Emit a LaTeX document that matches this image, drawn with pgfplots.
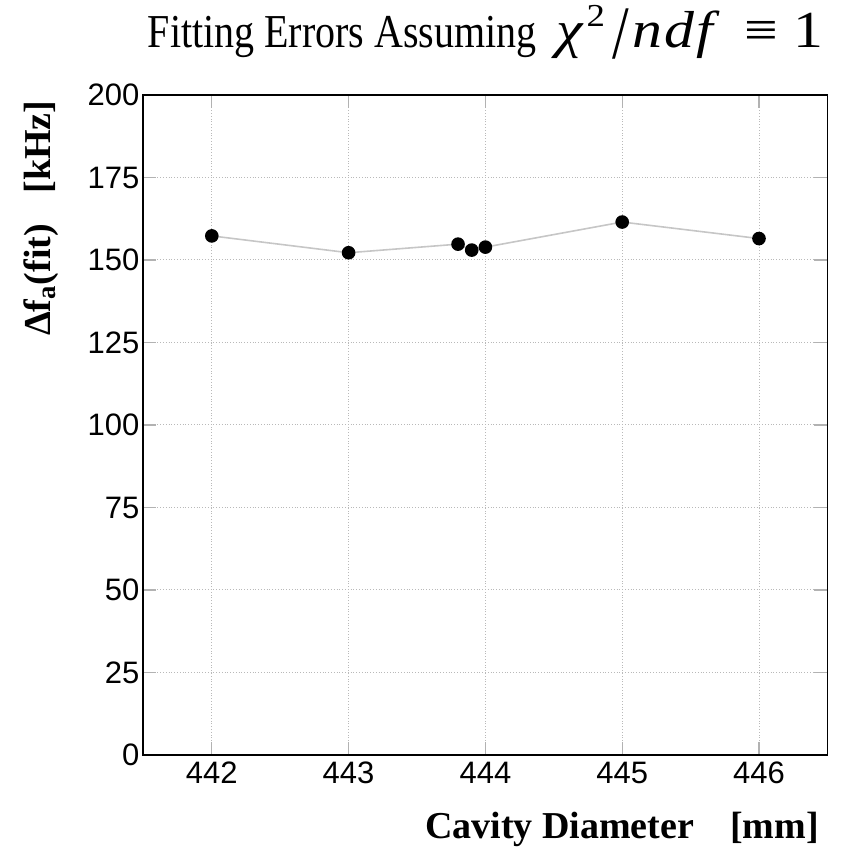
\documentclass[border=0pt]{standalone}
\usepackage{pgfplots}
\pgfplotsset{compat=1.18}
\usepackage{graphicx}
\usepackage{fontspec}
\setmainfont{Liberation Serif}
\newfontfamily\ticksans{Liberation Sans}

\begin{document}
\begin{tikzpicture}
\begin{axis}[
  scale only axis, width=342pt, height=330pt,
  xmin=441.5, xmax=446.5, ymin=0, ymax=200,
  xtick={442,443,444,445,446}, ytick={0,25,...,200},
  /pgf/number format/assume math mode=true,
  xticklabel style={/pgf/number format/1000 sep={}},
  tick label style={font=\ticksans\fontsize{15.5}{18}\selectfont},
  yticklabel style={xshift=1.5pt},
  grid=major, grid style={gray!55, densely dotted, line width=0.5pt},
  tick align=inside, major tick length=6.5pt,
  tick style={gray!60, line width=0.6pt, solid},
  axis line style={black, line width=0.9pt},
  title={\scalebox{1}[1.18]{Fitting Errors Assuming}\hspace{0.5em}\scalebox{1.15}[1]{\fontsize{26}{28}\selectfont\textit{χ}\hspace{0.04em}\raisebox{0.42em}{\fontsize{16}{17}\selectfont 2}\hspace{0.12em}\raisebox{-0.2em}{\scalebox{1}[1.45]{/}}\hspace{0.06em}\textit{n\hspace{0.04em}d\hspace{0.04em}f}\hspace{0.4em}≡\hspace{0.25em}1}},
  title style={font=\fontsize{20}{24}\selectfont, anchor=base, at={(0.5,1)}, yshift=17.5pt, inner sep=0pt},
  xlabel={Cavity Diameter\hspace{0.7em} [mm]},
  xlabel style={font=\bfseries\fontsize{19}{22}\selectfont, at={(axis description cs:0.988,-0.126)}, anchor=base east, inner sep=0pt},
  ylabel={Δf\textsubscript{a}(fit)\hspace{0.55em} [kHz]},
  ylabel style={font=\bfseries\fontsize{19}{22}\selectfont, at={(axis description cs:-0.136,0.992)}, anchor=base east, inner sep=0pt},
]
\addplot[gray!45, line width=0.8pt, mark=*, mark size=3pt, mark options={draw=black, fill=black}]
  coordinates {(442,157.3) (443,152.2) (443.8,154.8) (443.9,153.0) (444,153.9) (445,161.5) (446,156.5)};
\end{axis}
\path ([shift={(-71.7pt,-47.5pt)}]current axis.south west) rectangle ([shift={(9.35pt,47.5pt)}]current axis.north east);
\end{tikzpicture}
\end{document}
